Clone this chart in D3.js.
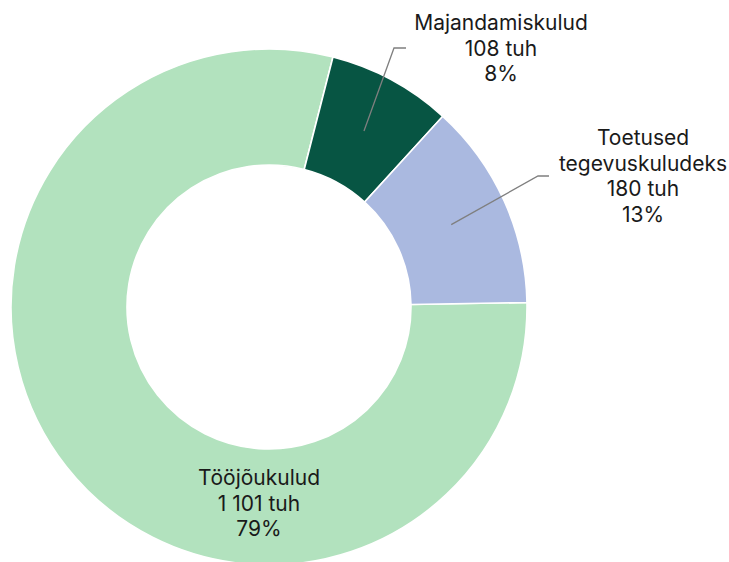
<!DOCTYPE html>
<html>
<head>
<meta charset="utf-8">
<script src="https://cdn.jsdelivr.net/npm/d3@7"></script>
<style>
  html, body { margin: 0; padding: 0; background: #ffffff; }
  svg { display: block; }
  text { font-family: Inter, "Noto Sans", sans-serif; fill: #1a1a1a; }
</style>
</head>
<body>
<svg id="chart" width="729" height="562"></svg>
<script>
// Kulude jaotus (tuhat eurot)
const categories = ["Tööjõukulud", "Majandamiskulud", "Toetused tegevuskuludeks"];
const labelLines = [["Tööjõukulud"], ["Majandamiskulud"], ["Toetused", "tegevuskuludeks"]];
const values = [1101, 108, 180];
const colors = ["#b2e2be", "#075543", "#aab9e0"];

const width = 729, height = 562;
const cx = 269, cy = 307;
const outerR = 258, innerR = 142;

const svg = d3.select("#chart");
const g = svg.append("g").attr("transform", `translate(${cx},${cy})`);

const et = d3.formatLocale({ decimal: ",", thousands: "\u00a0", grouping: [3], currency: ["", " €"] });
const fmtNum = et.format(",d");
const total = d3.sum(values);

const pie = d3.pie()
  .sort(null)
  .value(d => d.value)
  .startAngle(89 * Math.PI / 180)
  .endAngle((89 + 360) * Math.PI / 180);

const data = categories.map((c, i) => ({ name: c, value: values[i], lines: labelLines[i], color: colors[i] }));
const arcs = pie(data);

const arc = d3.arc().innerRadius(innerR).outerRadius(outerR);

g.selectAll("path.slice")
  .data(arcs)
  .join("path")
  .attr("class", "slice")
  .attr("d", arc)
  .attr("fill", d => d.data.color)
  .attr("stroke", "#ffffff")
  .attr("stroke-width", 1.6);

// Label anchors (relative to the ring centre) and leader-line elbows
const labelLayout = [
  { x: -10, y: 178, leader: false },
  { x: 232, y: -277, leader: true, elbow: [125, -259], end: [137, -259] },
  { x: 374, y: -162, leader: true, elbow: [269, -131], end: [280, -131] }
];
const lineH = 25.5;

arcs.forEach((a, i) => {
  const lay = labelLayout[i];
  if (lay.leader) {
    const c = arc.centroid(a);
    g.append("polyline")
      .attr("points", [c, lay.elbow, lay.end].map(p => p.join(",")).join(" "))
      .attr("fill", "none")
      .attr("stroke", "#7f7f7f")
      .attr("stroke-width", 1.3);
  }
  const pct = Math.round(a.data.value / total * 100) + "%";
  const lines = [...a.data.lines, fmtNum(a.data.value) + " tuh", pct];
  const t = g.append("text")
    .attr("text-anchor", "middle")
    .attr("font-size", 21);
  lines.forEach((ln, k) => {
    t.append("tspan")
      .attr("x", lay.x)
      .attr("y", lay.y + k * lineH)
      .text(ln);
  });
});
</script>
</body>
</html>
